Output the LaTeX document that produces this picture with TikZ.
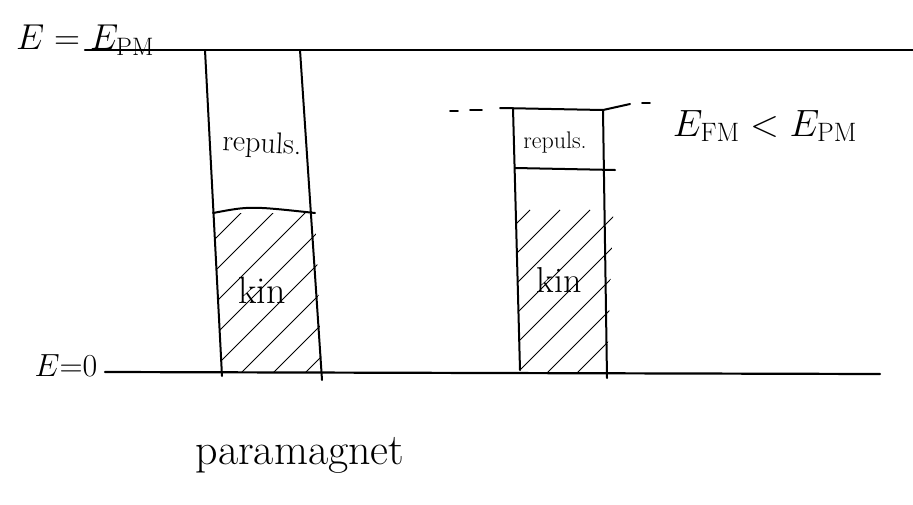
\RequirePackage{fix-cm}
\documentclass[tikz,border=0pt]{standalone}
\usepackage{amsmath}
\usepackage{tikz}
\usetikzlibrary{calc}

\begin{document}
\begin{tikzpicture}[x=1pt, y=-1pt,
  level/.style={line width=2.2pt, line cap=round},
  wall/.style={line width=2pt, line cap=round},
  hatch/.style={line width=1pt},
  lbl/.style={inner sep=0pt},
  dashpart/.style={line width=1.6pt, line cap=round}
]
  \useasboundingbox (0,0) rectangle (913,504);

  % energy levels
  \coordinate (pmL) at (85,50);
  \coordinate (pmR) at (913,50);
  \coordinate (zeroL) at (105,372);
  \coordinate (zeroR) at (880,374);
  \draw[level] (pmL) -- (pmR);
  \draw[level] (zeroL) -- (zeroR);

  % paramagnet column
  \coordinate (pTL) at (205,50);
  \coordinate (pBL) at (222,376);
  \coordinate (pTR) at (300,50);
  \coordinate (pBR) at (322,380);
  \coordinate (pDL) at (213,213);
  \coordinate (pDR) at (315,213);
  \begin{scope}
    \clip (pDL) -- (pDR) -- (pBR |- zeroL) -- (pBL |- zeroL) -- cycle;
    \foreach \i in {-5,...,5}
      \draw[hatch] (150+\i*32,400) -- ++(190,-190);
  \end{scope}
  \draw[wall] (pTL) -- (pBL);
  \draw[wall] (pTR) -- (pBR);
  \draw[wall] (pDL) .. controls (250,206) .. (pDR);

  % ferromagnet column
  \coordinate (fTL) at (513,108);
  \coordinate (fBL) at (520,370);
  \coordinate (fTR) at (603,110);
  \coordinate (fBR) at (607,378);
  \coordinate (fDL) at (515,168);
  \coordinate (fDR) at (615,170);
  \coordinate (fTop) at (500,108);
  \coordinate (fEnd) at (630,104);
  \begin{scope}
    \clip (fDL) -- (fDR) -- (fBR |- zeroL) -- (fBL |- zeroL) -- cycle;
    \foreach \i in {-7,...,4}
      \draw[hatch] (470+\i*30,390) -- ++(180,-180);
  \end{scope}
  \draw[wall] (fTL) -- (fBL);
  \draw[wall] (fTR) -- (fBR);
  \draw[wall] (fDL) -- (fDR);
  \draw[wall] (fTop) -- (fTR) -- (fEnd);
  \draw[dashpart] (450,111) -- (458,111);
  \draw[dashpart] (470,110) -- (482,110);
  \draw[dashpart] (642,103) -- (650,103);

  % labels
  \node[lbl, font=\fontsize{36}{40}\selectfont] (Etop) at (85,40) {$E= E_{\mathrm{PM}}$};
  \node[lbl, font=\fontsize{32}{36}\selectfont] (Ezero) at (66,366) {$E{=}0$};
  \node[lbl, font=\fontsize{30}{34}\selectfont, rotate=-3] (rep1) at (262,145) {repuls.};
  \node[lbl, font=\fontsize{38}{42}\selectfont] (kin1) at (262,290) {kin};
  \node[lbl, font=\fontsize{24}{28}\selectfont] (rep2) at (555,143) {repuls.};
  \node[lbl, font=\fontsize{36}{40}\selectfont] (kin2) at (559,280) {kin};
  \node[lbl, font=\fontsize{38}{42}\selectfont] (Efm) at (765,126) {$E_{\mathrm{FM}} < E_{\mathrm{PM}}$};
  \node[lbl, font=\fontsize{44}{48}\selectfont] (para) at (300,455) {paramagnet};
\end{tikzpicture}
\end{document}
